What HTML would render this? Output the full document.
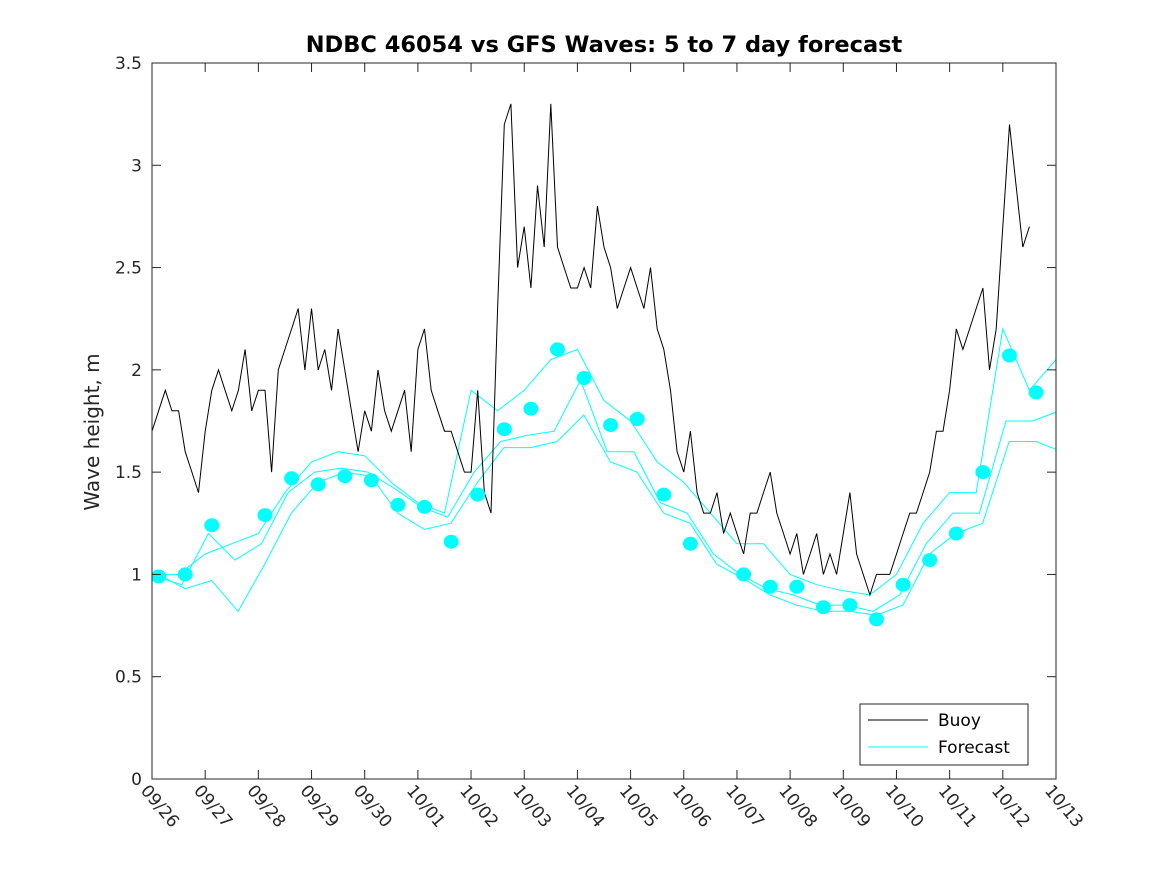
<!DOCTYPE html>
<html><head><meta charset="utf-8"><style>
html,body{margin:0;padding:0;background:#fff;}
svg{display:block;font-family:"DejaVu Sans","Liberation Sans",sans-serif;}
</style></head><body>
<svg id="chart" width="1167" height="875" viewBox="0 0 1167 875" xmlns="http://www.w3.org/2000/svg">
<defs><clipPath id="pc"><rect x="152" y="63" width="904" height="716"/></clipPath></defs>
<rect x="0" y="0" width="1167" height="875" fill="#fff"/>
<text x="604" y="52" text-anchor="middle" font-size="22.5" font-weight="bold" fill="#000">NDBC 46054 vs GFS Waves: 5 to 7 day forecast</text>
<text transform="translate(99,432) rotate(-90)" text-anchor="middle" font-size="20" fill="#262626">Wave height, m</text>
<g id="plot" clip-path="url(#pc)"></g>
<g id="axes"></g>
<g>
<rect x="860" y="704" width="168" height="61" fill="#fff" stroke="#262626" stroke-width="1"/>
<line x1="868" y1="720" x2="928" y2="720" stroke="#000" stroke-width="1"/>
<text x="938" y="726" font-size="17" fill="#000">Buoy</text>
<line x1="868" y1="747" x2="928" y2="747" stroke="#00ffff" stroke-width="1"/>
<text x="938" y="753" font-size="17" fill="#000">Forecast</text>
</g>
</svg>
<script>
const xTickLabels=["09/26","09/27","09/28","09/29","09/30","10/01","10/02","10/03","10/04","10/05","10/06","10/07","10/08","10/09","10/10","10/11","10/12","10/13"];
const yTicks=[0,0.5,1,1.5,2,2.5,3,3.5];
const yTickLabels=["0","0.5","1","1.5","2","2.5","3","3.5"];
// buoy: 3-hour steps starting 09/26 00:00
const buoy=[
1.7,1.8,1.9,1.8,1.8,1.6,1.5,1.4,
1.7,1.9,2.0,1.9,1.8,1.9,2.1,1.8,
1.9,1.9,1.5,2.0,2.1,2.2,2.3,2.0,
2.3,2.0,2.1,1.9,2.2,2.0,1.8,1.6,
1.8,1.7,2.0,1.8,1.7,1.8,1.9,1.6,
2.1,2.2,1.9,1.8,1.7,1.7,1.6,1.5,
1.5,1.9,1.4,1.3,2.3,3.2,3.3,2.5,
2.7,2.4,2.9,2.6,3.3,2.6,2.5,2.4,
2.4,2.5,2.4,2.8,2.6,2.5,2.3,2.4,
2.5,2.4,2.3,2.5,2.2,2.1,1.9,1.6,
1.5,1.7,1.4,1.3,1.3,1.4,1.2,1.3,
1.2,1.1,1.3,1.3,1.4,1.5,1.3,1.2,
1.1,1.2,1.0,1.1,1.2,1.0,1.1,1.0,
1.2,1.4,1.1,1.0,0.9,1.0,1.0,1.0,
1.1,1.2,1.3,1.3,1.4,1.5,1.7,1.7,
1.9,2.2,2.1,2.2,2.3,2.4,2.0,2.2,
2.7,3.2,2.9,2.6,2.7];
// forecast runs: 12-hour steps from 09/26 00:00
const fcUpper=[1.0,1.0,1.1,1.15,1.2,1.4,1.55,1.6,1.58,1.45,1.35,1.3,1.9,1.8,1.9,2.05,2.1,1.85,1.75,1.55,1.45,1.3,1.15,1.15,1.0,0.95,0.92,0.9,1.0,1.25,1.4,1.4,2.2,1.9,2.05];
const fcMid=[0.99,0.95,1.2,1.07,1.15,1.4,1.5,1.52,1.5,1.42,1.33,1.28,1.5,1.65,1.68,1.7,1.95,1.6,1.6,1.35,1.3,1.1,1.0,0.93,0.9,0.85,0.85,0.82,0.9,1.15,1.3,1.3,1.75,1.75,1.8];
const fcLower=[1.0,0.93,0.97,0.82,1.05,1.3,1.45,1.5,1.48,1.3,1.22,1.25,1.45,1.62,1.62,1.65,1.78,1.55,1.5,1.3,1.25,1.05,0.98,0.9,0.85,0.82,0.82,0.8,0.85,1.1,1.2,1.25,1.65,1.65,1.6];
// forecast dots: every 12 h starting day 0.125
const dots=[0.99,1.00,1.24,null,1.29,1.47,1.44,1.48,1.46,1.34,1.33,1.16,1.39,1.71,1.81,2.10,1.96,1.73,1.76,1.39,1.15,null,1.00,0.94,0.94,0.84,0.85,0.78,0.95,1.07,1.20,1.50,2.07,1.89];

const X0=152,X1=1056,Y0=779,Y1=63,DAYS=17,YMAX=3.5;
const xs=d=>X0+(X1-X0)*d/DAYS;
const ys=v=>Y0-(Y0-Y1)*v/YMAX;
const NS="http://www.w3.org/2000/svg";
const plot=document.getElementById('plot'),axes=document.getElementById('axes');
function mk(tag,attrs,parent){const e=document.createElementNS(NS,tag);for(const k in attrs)e.setAttribute(k,attrs[k]);parent.appendChild(e);return e;}

function poly(vals,step,off,color,name){
  const p=vals.map((v,i)=>xs(off+i*step).toFixed(1)+','+ys(v).toFixed(1)).join(' ');
  const el=mk('polyline',{points:p,fill:'none',stroke:color,'stroke-width':1},plot);
  
  
}
poly(fcUpper,0.5,0,'#00ffff','forecast-line-upper');
poly(fcMid,0.5,0.06,'#00ffff','forecast-line-mid');
poly(fcLower,0.5,0.12,'#00ffff','forecast-line-lower');
poly(buoy,0.125,0,'#000','buoy-line');
dots.forEach((v,i)=>{
  if(v===null)return;
  const c=mk('ellipse',{cx:xs(0.125+i*0.5).toFixed(1),cy:ys(v).toFixed(1),rx:7.5,ry:7,fill:'#00ffff'},plot);
  
  
});

const frame=mk('rect',{x:X0,y:Y1,width:X1-X0,height:Y0-Y1,fill:'none',stroke:'#262626','stroke-width':1},axes);


yTicks.forEach((v,i)=>{
  const y=ys(v);
  mk('line',{x1:X0,y1:y,x2:X0+9,y2:y,stroke:'#262626'},axes);
  mk('line',{x1:X1,y1:y,x2:X1-9,y2:y,stroke:'#262626'},axes);
  const t=mk('text',{x:X0-10,y:y+6,'text-anchor':'end','font-size':17,fill:'#262626'},axes);
  t.textContent=yTickLabels[i];
  
  
});
xTickLabels.forEach((lab,i)=>{
  const x=xs(i);
  mk('line',{x1:x,y1:Y0,x2:x,y2:Y0-9,stroke:'#262626'},axes);
  mk('line',{x1:x,y1:Y1,x2:x,y2:Y1+9,stroke:'#262626'},axes);
  const t=mk('text',{x:0,y:0,'font-size':17,fill:'#262626',transform:`translate(${x-12},${Y0+12}) rotate(50)`},axes);
  t.textContent=lab;
  
  
});
</script>
</body></html>
